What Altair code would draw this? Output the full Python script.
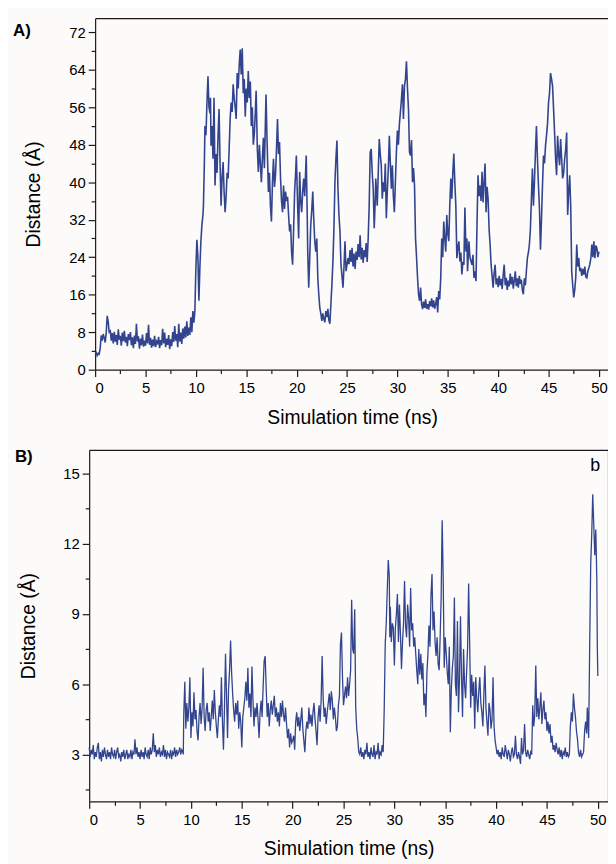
import altair as alt
import pandas as pd

# ---------------- Panel A data (time ns, distance Å) ----------------
tA = [0, 0.1, 0.2, 0.3, 0.4, 0.5, 0.6, 0.7, 0.8, 0.9, 1.0, 1.1, 1.2, 1.3, 1.4,
      1.5, 1.6, 1.7, 1.8, 1.9, 2.0, 2.1, 2.2, 2.3, 2.4, 2.5, 2.6, 2.7, 2.8, 2.9,
      3.0, 3.1, 3.2, 3.3, 3.4, 3.5, 3.6, 3.7, 3.8, 3.9, 4.0, 4.1, 4.2, 4.3, 4.4,
      4.5, 4.6, 4.7, 4.8, 4.9, 5.0, 5.1, 5.2, 5.3, 5.4, 5.5, 5.6, 5.7, 5.8, 5.9,
      6.0, 6.1, 6.2, 6.3, 6.4, 6.5, 6.6, 6.7, 6.8, 6.9, 7.0, 7.1, 7.2, 7.3, 7.4,
      7.5, 7.6, 7.7, 7.8, 7.9, 8.0, 8.1, 8.2, 8.3, 8.4, 8.5, 8.6, 8.7, 8.8, 8.9,
      9.0, 9.1, 9.2, 9.3, 9.4, 9.5, 9.6, 9.7, 9.8,
      9.9, 10.0, 10.1, 10.2, 10.3, 10.4, 10.5, 10.6, 10.7, 10.75, 10.85, 10.9,
      11.0, 11.1, 11.2, 11.3, 11.4, 11.45, 11.5, 11.6, 11.7, 11.8, 11.9, 12.0,
      12.1, 12.2, 12.3, 12.4, 12.5, 12.6, 12.7, 12.8, 12.9, 13.0, 13.1, 13.2,
      13.3, 13.4, 13.5, 13.6, 13.7, 13.8, 13.9, 14.0, 14.1, 14.2, 14.3, 14.4,
      14.5, 14.6, 14.7, 14.8, 14.9, 15.0, 15.1, 15.2, 15.3, 15.4, 15.5, 15.6,
      15.7, 15.8, 15.9, 15.98, 16.1, 16.2, 16.3, 16.4, 16.5, 16.6, 16.7, 16.8,
      16.96, 17.05, 17.2, 17.3, 17.4, 17.5, 17.6, 17.7, 17.8, 17.9, 18.0, 18.1,
      18.2, 18.3, 18.4, 18.5, 18.6, 18.7, 18.8, 18.9, 19.0, 19.1, 19.2, 19.3,
      19.4, 19.5, 19.6, 19.7, 19.8, 19.9, 19.97, 20.1, 20.2, 20.3, 20.4, 20.5,
      20.6, 20.7, 20.8, 20.95, 21.05, 21.1, 21.2, 21.3, 21.4, 21.5, 21.6, 21.7,
      21.8, 21.9, 22.0, 22.1, 22.2, 22.3, 22.4, 22.5, 22.6, 22.7, 22.8, 22.9,
      23.0, 23.1, 23.2, 23.3, 23.4, 23.5, 23.6, 23.7, 23.8, 23.9, 24.0, 24.1,
      24.2, 24.3, 24.4, 24.5, 24.6, 24.7, 24.8, 24.9, 25.0, 25.1,
      25.2, 25.3, 25.4, 25.5, 25.6, 25.7, 25.8, 25.9, 26.0, 26.1, 26.2, 26.3,
      26.4, 26.5, 26.6, 26.7, 26.8, 26.9, 27.0, 27.1,
      27.2, 27.3, 27.4, 27.5, 27.6, 27.7, 27.8, 27.85, 28.0, 28.1, 28.2, 28.3,
      28.4, 28.5, 28.6, 28.7, 28.8, 28.9, 29.0, 29.1, 29.2, 29.3, 29.4, 29.5,
      29.6, 29.7, 29.8, 29.9, 30.0, 30.1, 30.2, 30.3, 30.4, 30.5, 30.6, 30.7,
      30.8, 30.9, 31.0, 31.1, 31.2, 31.3, 31.4, 31.5, 31.6, 31.7, 31.8, 31.9,
      32.0, 32.1, 32.2, 32.3, 32.4, 32.5, 32.6, 32.7, 32.8, 32.9, 33.0, 33.1,
      33.2, 33.3, 33.4, 33.5, 33.6, 33.7, 33.8, 33.9, 34.0, 34.1, 34.2, 34.3,
      34.4, 34.5, 34.6, 34.7, 34.8, 34.9, 35.0, 35.1, 35.2, 35.3, 35.4, 35.5,
      35.6, 35.7, 35.8, 35.9, 36.0, 36.1, 36.2, 36.3, 36.4, 36.5, 36.6, 36.7,
      36.8, 36.9, 36.96, 37.1, 37.2, 37.3, 37.4, 37.5, 37.6, 37.7, 37.8, 37.9,
      38.0, 38.1, 38.2, 38.3, 38.4, 38.5, 38.6, 38.7, 38.8, 38.9, 39.0, 39.1,
      39.2, 39.3, 39.4, 39.5, 39.6, 39.7, 39.8,
      39.9, 40.0, 40.1, 40.2, 40.3, 40.4, 40.5, 40.6, 40.7, 40.8, 40.9, 41.0,
      41.1, 41.2, 41.3, 41.4, 41.5, 41.6, 41.7, 41.8, 41.9, 42.0, 42.1, 42.2,
      42.3, 42.4, 42.5, 42.6, 42.7, 42.8,
      42.9, 43.0, 43.1, 43.2, 43.3, 43.4, 43.5, 43.6, 43.7, 43.8, 43.9, 44.0,
      44.1, 44.2, 44.3, 44.4, 44.5, 44.6, 44.7, 44.8, 44.9, 45.0, 45.1, 45.2,
      45.3, 45.4, 45.5, 45.6, 45.7, 45.8, 45.9, 46.0, 46.1, 46.2, 46.3, 46.4,
      46.5, 46.6, 46.7, 46.8, 46.9, 47.0, 47.1, 47.2, 47.3, 47.4, 47.5, 47.6,
      47.7, 47.8, 47.9, 48.0, 48.1, 48.2, 48.3, 48.4, 48.5, 48.6, 48.7, 48.8,
      48.9, 49.0, 49.1, 49.2, 49.3, 49.4, 49.5, 49.6, 49.7, 49.8, 49.9, 50.0]

vA = [3.2, 3.6, 3.0, 3.5, 3.3, 4.5, 7.3, 6.2, 7.6, 6.8, 5.8, 7.9, 11.5, 10.2, 7.8,
      8.5, 6.2, 7.8, 5.6, 8.1, 6.0, 7.4, 5.3, 8.6, 6.4, 7.2, 5.1, 7.9, 6.1, 8.3,
      5.8, 7.0, 5.0, 7.6, 6.3, 8.0, 5.2, 6.9, 4.6, 7.3, 5.5, 9.8, 6.0, 7.1, 4.5,
      6.6, 5.2, 7.5, 4.9, 6.2, 5.1, 7.8, 5.6, 9.6, 5.3, 6.8, 4.7, 6.4, 5.0, 7.2,
      4.8, 6.0, 5.4, 7.0, 4.6, 6.3, 5.2, 8.7, 5.6, 7.9, 4.8, 6.6, 5.3, 7.4, 4.4,
      6.5, 5.0, 8.0, 5.9, 9.3, 6.2, 7.6, 4.8, 9.8, 6.0, 7.9, 5.5, 8.8, 6.6, 9.2,
      6.9, 10.3, 7.2, 9.0, 7.4, 11.2, 8.0, 12.5, 10.0,
      12.5, 21.7, 27.7, 24.0, 14.7, 22.0, 27.5, 30.9, 33.0, 35.0, 45.0, 52.0,
      50.0, 57.0, 62.6, 56.0, 54.7, 58.0, 47.8, 52.0, 45.0, 58.0, 39.3, 46.0,
      42.0, 50.0, 55.6, 44.0, 35.0, 41.0, 44.3, 38.0, 33.6, 37.0, 42.0, 40.8,
      47.0, 53.5, 57.0, 55.0, 60.9, 58.0, 56.0, 53.5, 63.3, 60.0, 65.0, 68.3,
      63.0, 68.6, 59.0, 62.0, 54.0, 60.0, 57.0, 63.7, 58.0, 61.5, 52.0, 56.0,
      48.0, 50.3, 55.0, 59.5, 47.0, 42.2, 48.0, 44.0, 40.0, 45.0, 49.5, 43.0,
      58.7, 50.0, 37.9, 42.0, 35.0, 31.6, 40.0, 45.0, 39.0, 41.5, 47.0, 53.5,
      46.0, 48.6, 41.0, 36.0, 33.6, 39.3, 34.3, 38.0, 36.0, 36.9, 33.0, 29.5,
      31.0, 25.0, 22.4, 30.0, 38.0, 42.0, 45.7, 35.0, 28.0, 42.2, 36.0, 33.6,
      38.0, 40.8, 37.0, 45.7, 33.0, 25.2, 17.5, 24.0, 30.9, 34.0, 38.0, 32.0,
      27.4, 25.2, 28.0, 19.6, 16.0, 13.2, 12.0, 10.4, 12.0, 10.8, 10.1, 12.5,
      11.2, 13.0, 10.5, 9.8, 14.0, 18.2, 23.1, 30.0, 40.0, 45.0, 48.9, 38.6,
      33.0, 29.5, 22.4, 20.0, 17.5, 22.0, 27.4, 21.0, 22.4, 23.8,
      22.5, 25.5, 23.0, 26.0, 22.0, 24.8, 21.5, 25.2, 23.4, 26.8, 24.0, 28.7,
      23.5, 26.0, 22.8, 25.5, 24.0, 27.0, 23.0, 28.0,
      35.0, 46.4, 47.1, 42.0, 38.6, 30.2, 36.0, 40.8, 35.0, 42.0, 49.2, 46.0,
      43.6, 36.5, 40.0, 38.0, 44.0, 32.3, 38.0, 43.0, 49.9, 44.0, 38.6, 43.6,
      37.0, 33.6, 40.0, 46.4, 51.0, 48.0, 52.5, 55.0, 57.7, 60.9, 53.5, 60.5,
      62.0, 65.8, 60.0, 55.6, 46.4, 45.7, 49.0, 40.0, 43.0, 39.3, 28.0, 24.0,
      19.6, 16.0, 14.7, 17.5, 14.0, 12.9, 14.5, 13.2, 15.0, 13.0, 14.0, 12.8,
      14.6, 13.5, 15.2, 13.3, 14.8, 13.0, 14.0, 15.5, 12.2, 16.8, 15.0, 19.6,
      28.0, 24.0, 31.6, 28.0, 25.2, 33.0, 29.0, 27.4, 35.0, 40.8, 36.5, 42.0,
      46.1, 40.0, 35.0, 23.8, 26.0, 27.4, 23.1, 25.0, 20.3, 23.0, 22.4, 34.6,
      25.2, 28.0, 21.0, 27.4, 24.0, 23.1, 22.4, 24.5, 19.6, 21.0, 18.9, 30.9,
      41.5, 37.0, 39.3, 36.0, 42.2, 35.7, 40.0, 44.0, 33.6, 39.0, 36.5, 30.0,
      26.7, 22.4, 20.0, 17.5, 20.5, 22.4, 18.2,
      19.5, 17.6, 20.0, 18.0, 19.4, 17.2, 20.2, 22.4, 18.0, 19.6, 17.0, 19.0,
      17.8, 20.5, 18.2, 19.8, 17.3, 19.0, 21.0, 17.8, 19.5, 17.5, 20.0, 18.3,
      19.2, 17.0, 16.1, 19.5, 18.0, 21.0,
      23.8, 25.0, 26.7, 30.0, 36.5, 42.9, 35.0, 40.0, 46.4, 52.0, 45.0, 39.3,
      34.3, 25.6, 32.0, 39.3, 45.7, 44.0, 47.8, 50.0, 52.5, 57.0, 59.0, 63.3,
      62.0, 60.5, 55.6, 50.6, 45.0, 41.5, 49.9, 46.0, 43.6, 49.2, 45.0, 40.8,
      42.0, 45.0, 47.0, 50.6, 33.0, 38.0, 41.5, 35.0, 21.0, 18.0, 15.4, 17.0,
      19.6, 26.7, 22.0, 23.8, 21.0, 21.7, 20.0, 21.5, 20.3, 22.0, 19.8, 19.6,
      21.0, 21.7, 22.5, 23.8, 26.7, 24.0, 27.4, 23.8, 26.5, 25.9, 24.0, 25.2]

# ---------------- Panel B data (time ns, distance Å) ----------------
tB = [0.0, 0.1, 0.2, 0.3, 0.4, 0.5, 0.6, 0.7, 0.8, 0.9, 1.0, 1.1, 1.2, 1.3, 1.4,
      1.5, 1.6, 1.7, 1.8, 1.9, 2.0, 2.1, 2.2, 2.3, 2.4, 2.5, 2.6, 2.7, 2.8, 2.9,
      3.0, 3.1, 3.2, 3.3, 3.4, 3.5, 3.6, 3.7, 3.8, 3.9, 4.0, 4.1, 4.2, 4.3, 4.4,
      4.5, 4.6, 4.7, 4.8, 4.9, 5.0, 5.1, 5.2, 5.3, 5.4, 5.5, 5.6, 5.7, 5.8, 5.9,
      6.0, 6.1, 6.2, 6.3, 6.4, 6.5, 6.6, 6.7, 6.8, 6.9, 7.0, 7.1, 7.2, 7.3, 7.4,
      7.5, 7.6, 7.7, 7.8, 7.9, 8.0, 8.1, 8.2, 8.3, 8.4, 8.5, 8.6, 8.7, 8.8, 8.9,
      9.0, 9.1, 9.2, 9.25,
      9.3, 9.4, 9.5, 9.6, 9.7, 9.8, 9.9, 10.0, 10.1, 10.2, 10.3, 10.4, 10.5,
      10.6, 10.7, 10.8, 10.9, 11.0, 11.1, 11.2, 11.3, 11.4, 11.5, 11.6, 11.7,
      11.8, 11.9, 12.0, 12.1, 12.2, 12.3, 12.4, 12.5, 12.6, 12.7, 12.8, 12.9,
      13.0, 13.1, 13.2, 13.3, 13.4, 13.5, 13.6, 13.7, 13.8, 13.9, 14.0, 14.1,
      14.2, 14.3, 14.4, 14.5, 14.6, 14.7, 14.8, 14.9, 15.0, 15.1, 15.2, 15.3,
      15.4, 15.5, 15.6, 15.7, 15.8, 15.9, 16.0, 16.1, 16.2, 16.3, 16.4, 16.5,
      16.6, 16.7, 16.8, 16.9, 17.0, 17.1, 17.2, 17.3, 17.4, 17.5, 17.6, 17.7,
      17.8, 17.9, 18.0, 18.1, 18.2, 18.3, 18.4, 18.5, 18.6, 18.7, 18.8, 18.9,
      19.0, 19.1, 19.2, 19.3, 19.4, 19.5, 19.6, 19.7, 19.8, 19.9, 20.0, 20.1,
      20.2, 20.3, 20.4, 20.5, 20.6, 20.7, 20.8, 20.9, 21.0, 21.1, 21.2, 21.3,
      21.4, 21.5, 21.6, 21.7, 21.8, 21.9, 22.0, 22.1, 22.2, 22.3, 22.4, 22.5,
      22.6, 22.7, 22.8, 22.9, 23.0, 23.1, 23.2, 23.3, 23.4, 23.5, 23.6, 23.7,
      23.8, 23.9, 24.0, 24.1, 24.2, 24.3, 24.4, 24.5, 24.6, 24.7, 24.8, 24.9,
      25.0, 25.1, 25.2, 25.3, 25.4, 25.5, 25.6, 25.7, 25.8, 25.9, 26.0, 26.1,
      26.2, 26.3, 26.4, 26.5,
      26.6, 26.7, 26.8, 26.9, 27.0, 27.1, 27.2, 27.3, 27.4, 27.5, 27.6, 27.7,
      27.8, 27.9, 28.0, 28.1, 28.2, 28.3, 28.4, 28.5, 28.6, 28.7, 28.8, 28.9,
      29.0, 29.1, 29.2, 29.3, 29.4, 29.5, 29.55, 29.6, 29.7, 29.8, 29.9, 30.0,
      30.1, 30.2, 30.3, 30.4, 30.5, 30.6, 30.7, 30.8, 30.9, 31.0, 31.1, 31.2,
      31.3, 31.4, 31.5, 31.6, 31.7, 31.8, 31.9, 32.0, 32.1, 32.2, 32.3, 32.4,
      32.5, 32.6, 32.7, 32.8, 32.9, 33.0, 33.1, 33.2, 33.3, 33.4, 33.5, 33.6,
      33.7, 33.8, 33.9, 34.0, 34.1, 34.2, 34.3, 34.4, 34.5, 34.6, 34.65, 34.7,
      34.8, 34.9, 35.0, 35.1, 35.2, 35.3, 35.4, 35.5, 35.6, 35.7, 35.8, 35.9,
      36.0, 36.1, 36.2, 36.3, 36.4, 36.5, 36.6, 36.7, 36.8, 36.9, 37.0, 37.1,
      37.2, 37.3, 37.4, 37.5, 37.6, 37.7, 37.8, 37.9, 38.0, 38.1, 38.2, 38.3,
      38.4, 38.5, 38.6, 38.7, 38.8, 38.9, 39.0, 39.1, 39.2, 39.3, 39.4, 39.5,
      39.6, 39.7, 39.8, 39.9, 40.0,
      40.1, 40.2, 40.3, 40.4, 40.5, 40.6, 40.7, 40.8, 40.9, 41.0, 41.1, 41.2,
      41.3, 41.4, 41.5, 41.6, 41.7, 41.8, 41.9, 42.0, 42.1, 42.2, 42.3, 42.4,
      42.5, 42.6, 42.7, 42.8, 42.9, 43.0, 43.1, 43.2, 43.3, 43.4, 43.5,
      43.6, 43.7, 43.8, 43.9, 44.0, 44.1, 44.2, 44.3, 44.4, 44.5, 44.6, 44.7,
      44.8, 44.9, 45.0, 45.1, 45.2, 45.3, 45.4, 45.5, 45.6, 45.7, 45.8, 45.9,
      46.0, 46.1, 46.2, 46.3, 46.4, 46.5, 46.6, 46.7, 46.8, 46.9, 47.0, 47.1,
      47.2, 47.3, 47.4, 47.5, 47.6, 47.7, 47.8, 47.9, 47.99, 48.1, 48.2, 48.3,
      48.4, 48.5, 48.6, 48.7, 48.8, 48.9, 48.97, 49.05, 49.1, 49.2, 49.3, 49.4,
      49.5, 49.6, 49.7, 49.8, 49.9, 49.95, 50.0]

vB = [3.3, 2.9, 3.2, 3.0, 3.4, 2.8, 3.1, 2.9, 3.3, 3.5, 2.8, 3.1, 2.7, 3.2, 2.9,
      3.3, 3.0, 2.8, 3.2, 2.9, 3.1, 2.8, 3.3, 3.0, 2.9, 3.2, 2.8, 3.1, 3.3, 2.9,
      3.0, 2.7, 3.1, 2.9, 3.2, 2.8, 3.0, 3.2, 2.8, 3.0, 2.9, 3.2, 2.8, 3.1, 3.0,
      3.65, 3.0, 3.3, 2.9, 3.1, 2.8, 3.2, 2.9, 3.1, 2.8, 3.3, 3.0, 2.9, 3.2, 2.8,
      3.3, 3.0, 3.2, 3.9, 3.1, 3.4, 2.9, 3.2, 3.0, 3.3, 2.9, 3.1, 3.0, 3.4, 2.9,
      3.2, 2.8, 3.1, 3.0, 2.9, 3.2, 2.8, 3.1, 3.0, 3.3, 2.9, 3.2, 3.0, 3.1, 3.3,
      3.0, 3.2, 3.1, 3.0,
      4.76, 6.1, 4.1, 5.2, 4.4, 5.0, 6.3, 3.7, 4.8, 4.2, 5.65, 4.5, 4.9,
      4.0, 3.6, 4.6, 5.2, 4.3, 5.0, 6.7, 4.6, 4.0, 4.9, 5.2, 4.4,
      4.8, 4.0, 4.6, 5.3, 4.5, 5.75, 4.8, 4.2, 3.7, 4.5, 5.1, 4.6,
      6.3, 4.4, 3.2, 5.0, 7.3, 5.5, 3.7, 5.8, 6.6, 7.86, 6.5, 5.6,
      4.9, 4.4, 5.2, 4.7, 5.3, 4.1, 4.8, 4.4, 3.3, 4.6, 5.0, 5.4,
      6.1, 5.3, 6.7, 5.0, 5.6, 4.6, 6.75, 5.3, 4.2, 5.0, 4.6, 5.2,
      4.5, 3.7, 4.8, 5.3, 4.6, 5.9, 7.0, 7.2, 5.8, 4.6, 5.2, 4.2,
      4.9, 5.3, 4.7, 5.1, 5.5, 4.6, 5.0, 4.4, 4.8, 4.2, 5.2, 4.6,
      5.3, 4.7, 4.4, 5.0, 4.3, 3.7, 4.1, 3.3, 3.9, 3.5, 3.6, 3.8,
      3.2, 4.4, 4.8, 4.2, 4.6, 4.0, 4.5, 5.0, 4.1, 3.6, 3.1, 4.0,
      4.4, 4.1, 5.0, 4.3, 4.7, 4.2, 4.8, 5.2, 4.5, 4.0, 3.4, 4.6,
      5.1, 4.4, 5.3, 7.2, 5.4, 4.6, 5.0, 4.3, 4.8, 5.2, 5.6, 4.9,
      5.7, 5.3, 4.5, 5.0, 4.6, 4.0, 4.2, 5.1, 5.5, 7.7, 8.2, 6.3,
      5.1, 5.5, 5.9, 5.4, 6.3, 5.5, 6.0, 6.6, 9.6, 7.5, 7.3, 9.2,
      5.0, 4.1, 3.7, 3.1,
      3.0, 3.3, 2.9, 3.1, 2.8, 3.2, 3.0, 3.5, 2.9, 3.1, 2.8, 3.3,
      3.0, 2.9, 3.4, 2.8, 3.1, 3.0, 3.5, 2.8, 3.1, 3.0, 3.4, 3.1,
      4.9, 7.7, 8.6, 10.0, 11.3, 10.6, 8.0, 9.3, 7.8, 8.6, 8.4, 6.8,
      8.4, 9.0, 9.85, 7.8, 9.4, 8.1, 6.65, 7.8, 8.6, 10.4, 8.5, 8.0,
      9.4, 8.8, 7.6, 10.1, 8.3, 8.6, 7.6, 8.0, 7.3, 6.6, 6.0, 7.5,
      6.4, 7.3, 6.2, 6.9, 5.1, 5.6, 4.6, 6.5, 7.3, 8.5, 7.6, 9.8,
      10.7, 8.3, 9.1, 7.8, 7.2, 8.0, 6.9, 6.6, 8.0, 9.7, 11.5, 13.0,
      10.5, 6.7, 8.0, 7.3, 6.5, 6.0, 7.6, 3.95, 5.8, 6.7, 7.2, 9.7,
      6.0, 5.5, 8.7, 4.8, 6.2, 8.9, 6.3, 4.6, 7.5, 6.0, 5.4, 6.5,
      7.6, 10.3, 7.8, 5.0, 6.4, 5.5, 6.1, 4.1, 6.3, 5.4, 4.8, 5.7,
      6.3, 5.2, 4.8, 4.2, 5.6, 6.8, 5.0, 4.4, 3.8, 5.2, 4.9, 4.1,
      4.5, 6.3, 4.2, 3.6, 3.3,
      3.0, 3.2, 2.9, 3.1, 2.8, 3.3, 3.0, 2.9, 3.4, 3.1, 2.8, 3.2,
      3.0, 2.7, 3.1, 3.3, 2.9, 3.0, 3.8, 3.0, 2.8, 3.1, 2.9, 2.6,
      3.7, 3.0, 3.2, 4.3, 3.1, 2.9, 3.2, 3.0, 2.8, 3.1, 3.0,
      5.1, 4.2, 4.7, 6.8, 4.6, 5.4, 4.5, 5.0, 5.65, 4.3, 4.9, 5.3,
      4.5, 4.8, 4.0, 4.4, 3.9, 4.3, 3.5, 3.8, 3.2, 3.4, 3.1, 3.5,
      3.2, 3.0, 3.3, 2.9, 3.2, 2.8, 3.1, 3.0, 3.3, 2.9, 3.1, 2.9,
      3.0, 4.2, 4.8, 4.4, 5.6, 5.0, 4.6, 4.0, 3.7, 3.1, 2.9, 3.2,
      2.9, 3.0, 3.1, 4.0, 4.4, 3.9, 5.0, 4.2, 3.7, 7.7, 11.1, 12.4,
      14.1, 12.8, 11.5, 12.6, 10.5, 7.6, 6.35]

panel_labels = ["A)", "B)"]
corner_label = ["b"]
x_ticks = [i * 2.5 for i in range(21)]
yA_ticks = [i * 4 for i in range(19)]
yB_ticks = [1.5 * i for i in range(1, 11)]

LINE = "#33448e"
AX = "#1a1a1a"
FONT = "Liberation Sans"
W = 524
H = 355
SHIFT = 6  # panel A sits 6px right of panel B

dfA = pd.DataFrame({"t": tA, "d": vA})
dfB = pd.DataFrame({"t": tB, "d": vB})


def major_minor(test, big, small):
    return {"condition": {"test": test, "value": big}, "value": small}


def x_axis():
    return alt.Axis(values=x_ticks, title="Simulation time (ns)",
                    labelExpr="datum.value % 5 == 0 ? datum.label : ''",
                    format="d", labelOverlap=False,
                    tickSize=major_minor("datum.value % 5 == 0", 7, 4),
                    labelPadding=4, titlePadding=13, grid=False)


def top_border():
    return alt.Axis(orient="top", labels=False, ticks=False, title=None, grid=False)


# ---------------- Panel A ----------------
xsA = alt.Scale(domain=[0, 51], range=[SHIFT, W + 1], nice=False, zero=False)
ysA = alt.Scale(domain=[0, 75], nice=False, zero=False)

lineA = alt.Chart(dfA).mark_line(color=LINE, strokeWidth=1.6).encode(
    x=alt.X("t:Q", scale=xsA, axis=x_axis()),
    y=alt.Y("d:Q", scale=ysA,
            axis=alt.Axis(values=yA_ticks, title="Distance (Å)", offset=-SHIFT,
                          labelExpr="datum.value % 8 == 0 ? datum.label : ''",
                          labelOverlap=False, format="d",
                          tickSize=major_minor("datum.value % 8 == 0", 7, 4),
                          labelPadding=3, titlePadding=25, grid=False)),
)
frameA = alt.Chart(dfA).mark_line(opacity=0).encode(
    x=alt.X("t:Q", scale=xsA, axis=top_border()),
    y=alt.Y("d:Q", scale=ysA, axis=None),
)
labA = alt.Chart(pd.DataFrame({"lab": [panel_labels[0]]})).mark_text(
    font=FONT, fontSize=17, fontWeight="bold", align="center", baseline="middle", color="black"
).encode(text="lab:N", x=alt.value(-68), y=alt.value(13))

chartA = alt.layer(lineA, frameA, labA).resolve_axis(
    x="independent", y="independent").properties(width=W, height=H)

# ---------------- Panel B ----------------
xsB = alt.Scale(domain=[0, 51], nice=False, zero=False)
ysB = alt.Scale(domain=[1, 16], nice=False, zero=False)

lineB = alt.Chart(dfB).mark_line(color=LINE, strokeWidth=1.3).encode(
    x=alt.X("t:Q", scale=xsB, axis=x_axis()),
    y=alt.Y("d:Q", scale=ysB,
            axis=alt.Axis(values=yB_ticks, title="Distance (Å)",
                          labelExpr="datum.value % 3 == 0 ? datum.label : ''",
                          labelOverlap=False,
                          tickSize=major_minor("datum.value % 3 == 0", 7, 4),
                          labelPadding=3, titlePadding=25, grid=False)),
)
frameB = alt.Chart(dfB).mark_line(opacity=0).encode(
    x=alt.X("t:Q", scale=xsB, axis=top_border()),
    y=alt.Y("d:Q", scale=ysB,
            axis=alt.Axis(orient="right", labels=False, ticks=False, title=None, grid=False)),
)
labB = alt.Chart(pd.DataFrame({"lab": [panel_labels[1]]})).mark_text(
    font=FONT, fontSize=17, fontWeight="bold", align="center", baseline="middle", color="black"
).encode(text="lab:N", x=alt.value(-66), y=alt.value(7))
labb = alt.Chart(pd.DataFrame({"lab": corner_label})).mark_text(
    font=FONT, fontSize=18, align="center", baseline="middle", color="black"
).encode(text="lab:N", x=alt.value(511), y=alt.value(16))

chartB = alt.layer(lineB, frameB, labB, labb).resolve_axis(
    x="independent", y="independent").properties(width=W, height=H)

chart = alt.vconcat(chartA, chartB, spacing=21).properties(
    background="#fcfbfa",
    padding={"left": 5, "top": 6, "right": 0, "bottom": 2},
).configure_view(stroke=None, fill="#fcfbfa").configure_axis(
    labelFont=FONT, labelFontSize=15, labelColor="black",
    titleFont=FONT, titleFontSize=19.5, titleFontWeight="normal", titleColor="black",
    domainColor=AX, tickColor=AX, domainWidth=1.2, tickWidth=1.2,
)

chart.save("out.html", embed_options={"renderer": "svg", "actions": False})
